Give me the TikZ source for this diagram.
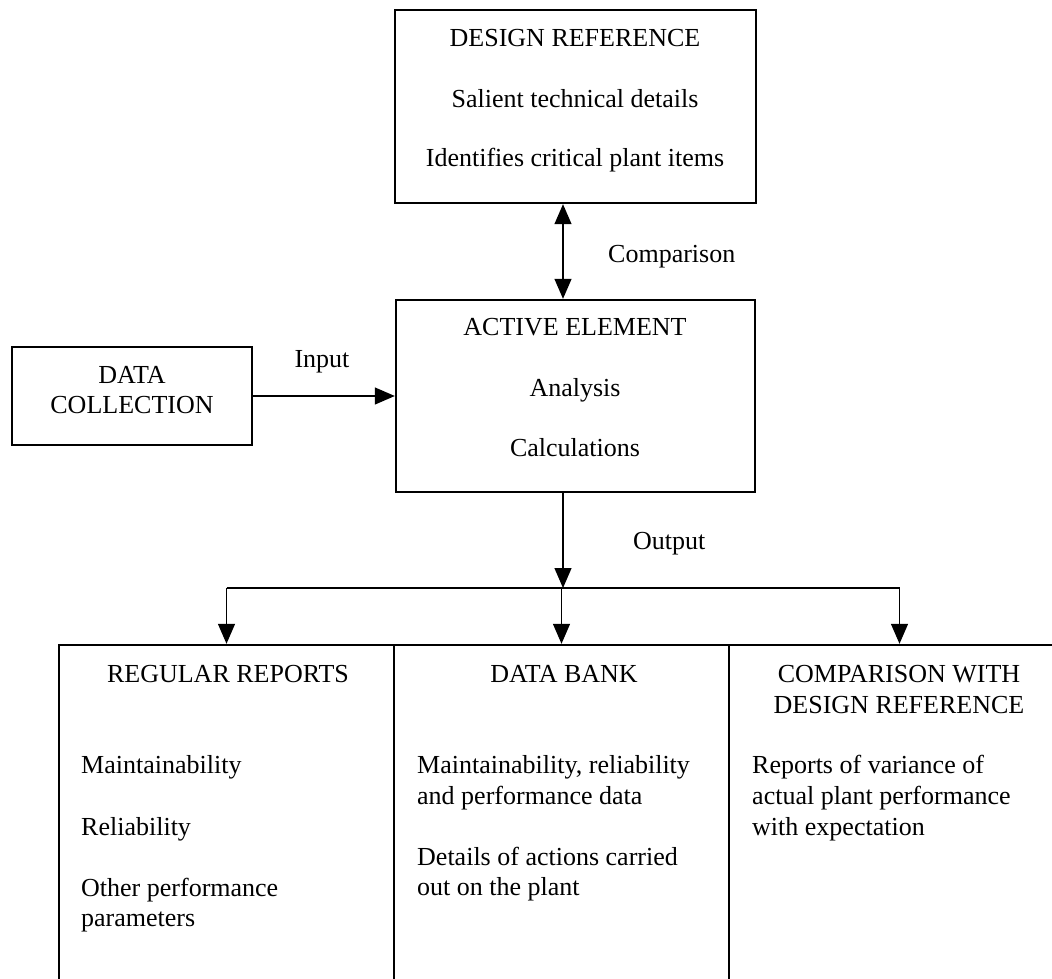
\documentclass[tikz,border=0pt]{standalone}
\usepackage{fontspec}
\setmainfont{Liberation Serif}
\usetikzlibrary{arrows.meta}

\begin{document}
\begin{tikzpicture}[x=1pt,y=-1pt,
    box/.style={draw,line width=2.4pt,inner sep=0pt},
    conn/.style={line width=1.3pt,-{Triangle[length=20pt,width=17pt]}},
    txt/.style={inner sep=0pt,font=\fontsize{26}{30.5}\selectfont}]
  \useasboundingbox (0,0) rectangle (1052,979);
  \def \Boxes {
    design/575.5/106.5/361/193,
    active/575.5/396/359/192,
    collect/132/396/240/98,
    regular/226.5/822.5/335/355,
    bank/561.5/822.5/335/355,
    compare/899.5/822.5/341/355}
  \def \Centred {
    ds1/575/47/DESIGN REFERENCE,
    ds2/575/108/Salient technical details,
    ds3/575/167/Identifies critical plant items,
    ac1/575/335/ACTIVE ELEMENT,
    ac2/575/396/Analysis,
    ac3/575/456/Calculations,
    dc1/132/383/DATA,
    dc2/132/413/COLLECTION,
    rr1/228/682/REGULAR REPORTS,
    db1/564/682/DATA BANK,
    cw1/899/682/COMPARISON WITH,
    cw2/899/713/DESIGN REFERENCE}
  \def \Left {
    rr2/81/773/Maintainability,
    rr3/81/835/Reliability,
    rr4/81/896/Other performance,
    rr5/81/926/parameters,
    db2/417/773/{Maintainability, reliability},
    db3/417/804/and performance data,
    db4/417/865/Details of actions carried,
    db5/417/895/out on the plant,
    cw3/752/773/Reports of variance of,
    cw4/752/804/actual plant performance,
    cw5/752/835/with expectation}

  \foreach \id / \x / \y / \w / \h in \Boxes {
    \node[box,minimum width=\w pt,minimum height=\h pt] (\id) at (\x, \y) {};
  }
  \foreach \id / \x / \y / \t in \Centred {
    \node[txt,anchor=base] (\id) at (\x, \y) {\t};
  }
  \foreach \id / \x / \y / \t in \Left {
    \node[txt,anchor=base west] (\id) at (\x, \y) {\t};
  }

  % connector labels
  \node[txt,anchor=base] (inlab) at (322, 367) {Input};
  \node[txt,anchor=base west] (cmplab) at (608, 262) {Comparison};
  \node[txt,anchor=base west] (outlab) at (633, 549) {Output};

  \coordinate (split) at (563, 588);
  \draw[conn,{Triangle[length=20pt,width=17pt]}-{Triangle[length=20pt,width=17pt]}]
    (design.south -| split) -- (active.north -| split);
  \draw[conn] (collect.east) -- (collect.east -| active.west);
  \draw[conn] (active.south -| split) -- (split);
  \draw[line width=1.3pt] (split -| regular.north) -- (split -| compare.north);
  \foreach \b in {regular, bank, compare} {
    \draw[conn] (split -| \b.north) -- (\b.north);
  }
\end{tikzpicture}
\end{document}
